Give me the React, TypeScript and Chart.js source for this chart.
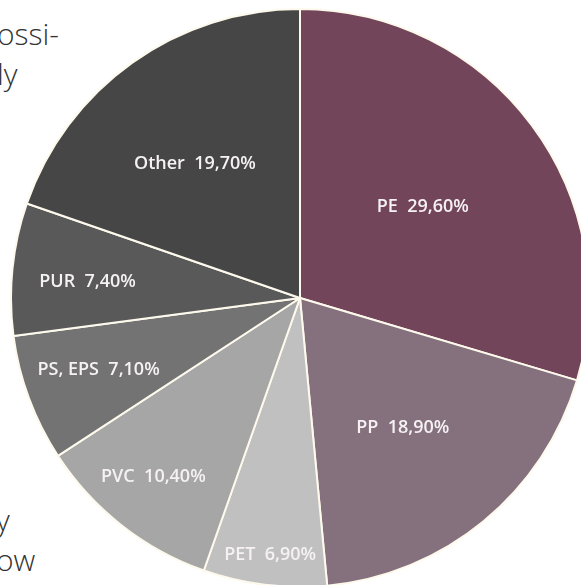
import React, { useEffect, useRef } from "react";
import { Chart, registerables } from "chart.js";

Chart.register(...registerables);

const categories = ["PE", "PP", "PET", "PVC", "PS, EPS", "PUR", "Other"];
const shares = [29.6, 18.9, 6.9, 10.4, 7.1, 7.4, 19.7];
const shareLabels = ["29,60%", "18,90%", "6,90%", "10,40%", "7,10%", "7,40%", "19,70%"];
const sliceColors = ["#73455a", "#85707d", "#c0c0c0", "#a6a6a6", "#737373", "#595959", "#464646"];
const labelRadius = [0.53, 0.572, 0.896, 0.8, 0.74, 0.737, 0.59];
const labelNudgeDeg = [0, 1, -0.4, 1.2, 0.7, -1.5, -2.6];

const labelPlugin = {
  id: "sliceLabels",
  afterDatasetsDraw(chart: any) {
    const meta = chart.getDatasetMeta(0);
    const ctx = chart.ctx;
    ctx.save();
    ctx.font = '600 18px "Open Sans"';
    ctx.fillStyle = "#f6f2f3";
    ctx.textAlign = "center";
    ctx.textBaseline = "middle";
    meta.data.forEach((arc: any, i: number) => {
      const p = arc.getProps(["x", "y", "startAngle", "endAngle", "outerRadius"], true);
      const a = (p.startAngle + p.endAngle) / 2 + (labelNudgeDeg[i] * Math.PI) / 180;
      const r = p.outerRadius * labelRadius[i];
      const txt = categories[i] + "  " + shareLabels[i];
      ctx.fillText(txt, p.x + Math.cos(a) * r, p.y + Math.sin(a) * r);
    });
    ctx.restore();
  },
};

export default function App() {
  const ref = useRef<HTMLCanvasElement | null>(null);
  useEffect(() => {
    if (!ref.current) return;
    const chart = new Chart(ref.current, {
      type: "pie",
      data: {
        labels: categories,
        datasets: [
          {
            data: shares,
            backgroundColor: sliceColors,
            borderColor: "#fdf9ec",
            borderWidth: 2,
          },
        ],
      },
      options: {
        responsive: false,
        animation: false,
        layout: { padding: 0 },
        plugins: { legend: { display: false }, tooltip: { enabled: false } },
      },
      plugins: [labelPlugin],
    });
    return () => chart.destroy();
  }, []);

  const textStyle: React.CSSProperties = {
    position: "absolute",
    fontFamily: '"Open Sans", sans-serif',
    fontWeight: 300,
    fontSize: 30,
    lineHeight: "40px",
    color: "#333",
    whiteSpace: "nowrap",
  };

  return (
    <div style={{ position: "fixed", left: 0, top: 0, width: 581, height: 585, overflow: "hidden", background: "#fff" }}>
      <div style={{ ...textStyle, left: -3, top: 14 }}>
        ossi-
        <br />
        ly
      </div>
      <div style={{ ...textStyle, left: -4, top: 500 }}>
        y
        <br />
        ow
      </div>
      <canvas ref={ref} width={580} height={580} style={{ position: "absolute", left: 10, top: 8 }} />
    </div>
  );
}
